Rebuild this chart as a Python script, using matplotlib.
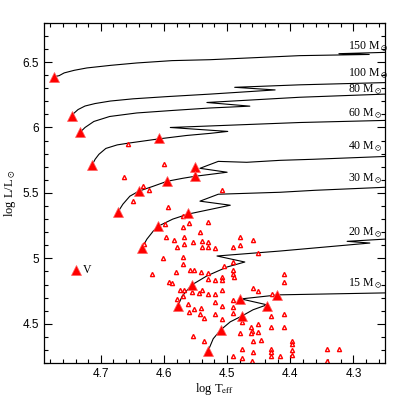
import matplotlib
matplotlib.use("Agg")
import matplotlib.pyplot as plt
from matplotlib.ticker import MultipleLocator

plt.rcParams['font.family'] = 'Liberation Serif'
plt.rcParams['mathtext.fontset'] = 'stix'

# evolutionary tracks (log Teff, log L/Lsun)
t150_logt = [4.773, 4.766, 4.758, 4.742, 4.722, 4.684, 4.643, 4.587, 4.527, 4.385, 4.275, 4.323, 4.250, 4.226]
t150_logl = [6.389, 6.396, 6.417, 6.437, 6.455, 6.475, 6.493, 6.511, 6.518, 6.549, 6.558, 6.564, 6.574, 6.577]

t100_logt = [4.746, 4.743, 4.736, 4.725, 4.709, 4.685, 4.649, 4.595, 4.527, 4.424, 4.488, 4.385, 4.250, 4.226]
t100_logl = [6.084, 6.107, 6.137, 6.164, 6.183, 6.202, 6.219, 6.236, 6.255, 6.287, 6.307, 6.326, 6.343, 6.347]

t80_logt = [4.733, 4.725, 4.711, 4.686, 4.643, 4.587, 4.527, 4.464, 4.532, 4.385, 4.250, 4.226]
t80_logl = [5.962, 6.000, 6.046, 6.084, 6.111, 6.130, 6.149, 6.163, 6.191, 6.231, 6.255, 6.259]

t60_logt = [4.714, 4.709, 4.703, 4.692, 4.674, 4.654, 4.608, 4.564, 4.527, 4.499, 4.590, 4.385, 4.250, 4.226]
t60_logl = [5.711, 5.757, 5.795, 5.840, 5.867, 5.882, 5.913, 5.939, 5.955, 5.970, 6.000, 6.038, 6.054, 6.057]

t40_logt = [4.673, 4.665, 4.654, 4.640, 4.617, 4.595, 4.570, 4.551, 4.500, 4.543, 4.514, 4.469,
            4.416, 4.364, 4.247, 4.226]
t40_logl = [5.353, 5.414, 5.475, 5.513, 5.551, 5.589, 5.612, 5.627, 5.658, 5.688, 5.741, 5.734,
            5.749, 5.757, 5.779, 5.783]

t30_logt = [4.635, 4.627, 4.617, 4.609, 4.586, 4.562, 4.495, 4.543, 4.514, 4.416, 4.361, 4.250, 4.226]
t30_logl = [5.079, 5.147, 5.208, 5.246, 5.300, 5.338, 5.406, 5.437, 5.490, 5.505, 5.520, 5.543, 5.547]

t20_logt = [4.578, 4.571, 4.556, 4.532, 4.500, 4.472, 4.516, 4.416, 4.274, 4.310, 4.250, 4.226]
t20_logl = [4.637, 4.713, 4.797, 4.866, 4.934, 4.972, 5.018, 5.056, 5.117, 5.130, 5.147, 5.151]

t15_logt = [4.530, 4.522, 4.510, 4.495, 4.476, 4.459, 4.437, 4.478, 4.419, 4.250, 4.226]
t15_logl = [4.294, 4.386, 4.454, 4.515, 4.561, 4.607, 4.645, 4.690, 4.721, 4.736, 4.736]

track_masses = ['150', '100', '80', '60', '40', '30', '20', '15']
label_logl = [6.615, 6.412, 6.284, 6.107, 5.850, 5.604, 5.198, 4.805]

# stars with spectroscopic analysis (big filled triangles)
big_logt = [4.774, 4.746, 4.733, 4.714, 4.608, 4.673, 4.640, 4.595, 4.551, 4.551, 4.635,
            4.609, 4.562, 4.578, 4.556, 4.530, 4.510, 4.476, 4.437, 4.480, 4.421]
big_logl = [6.389, 6.084, 5.962, 5.711, 5.917, 5.353, 5.513, 5.589, 5.696, 5.627, 5.079,
            5.246, 5.345, 4.637, 4.797, 4.294, 4.454, 4.561, 4.637, 4.690, 4.721]

# star V
v_logt = [4.739]
v_logl = [4.911]

# comparison sample (small open triangles)
small_logt = [4.657, 4.600, 4.663, 4.633, 4.624, 4.649, 4.594, 4.508, 4.632, 4.598,
              4.570, 4.560, 4.570, 4.530, 4.543, 4.597, 4.584, 4.568, 4.554, 4.540,
              4.530, 4.579, 4.568, 4.540, 4.530, 4.519, 4.491, 4.480, 4.480, 4.459,
              4.451, 4.602, 4.570, 4.570, 4.559, 4.552, 4.541, 4.530, 4.530, 4.581,
              4.619, 4.592, 4.587, 4.519, 4.508, 4.508, 4.505, 4.491, 4.491, 4.491,
              4.489, 4.575, 4.568, 4.570, 4.556, 4.545, 4.540, 4.530, 4.519, 4.508,
              4.459, 4.451, 4.429, 4.410, 4.410, 4.579, 4.562, 4.560, 4.552, 4.543,
              4.541, 4.537, 4.519, 4.508, 4.519, 4.508, 4.491, 4.491, 4.491, 4.476,
              4.451, 4.431, 4.410, 4.462, 4.461, 4.462, 4.480, 4.451, 4.431, 4.410,
              4.554, 4.537, 4.459, 4.446, 4.397, 4.397, 4.476, 4.431, 4.431, 4.431,
              4.459, 4.491, 4.476, 4.461, 4.416, 4.397, 4.397, 4.342, 4.323, 4.342]
small_logl = [5.871, 5.719, 5.620, 5.551, 5.520, 5.437, 5.391, 5.520, 5.109, 5.262,
              5.322, 5.269, 5.239, 5.277, 5.201, 5.163, 5.140, 5.163, 5.124, 5.132,
              5.124, 5.086, 5.109, 5.086, 5.086, 5.079, 5.086, 5.163, 5.102, 5.140,
              5.041, 5.003, 5.010, 4.957, 4.911, 4.911, 4.896, 4.888, 4.843, 4.896,
              4.881, 4.820, 4.812, 4.835, 4.858, 4.835, 4.942, 4.972, 4.911, 4.881,
              4.858, 4.759, 4.759, 4.713, 4.744, 4.736, 4.759, 4.728, 4.728, 4.759,
              4.774, 4.751, 4.728, 4.881, 4.820, 4.690, 4.652, 4.591, 4.614, 4.576,
              4.622, 4.546, 4.668, 4.637, 4.576, 4.538, 4.683, 4.629, 4.584, 4.515,
              4.500, 4.561, 4.576, 4.477, 4.447, 4.431, 4.431, 4.439, 4.477, 4.477,
              4.409, 4.370, 4.370, 4.378, 4.370, 4.348, 4.310, 4.310, 4.287, 4.256,
              4.287, 4.256, 4.241, 4.218, 4.256, 4.302, 4.264, 4.310, 4.310, 4.218]

fig = plt.figure(figsize=(4.07, 4.07), dpi=100)
ax = fig.add_axes([0.108, 0.108, 0.838, 0.836])

tracks = [(t150_logt, t150_logl), (t100_logt, t100_logl), (t80_logt, t80_logl),
          (t60_logt, t60_logl), (t40_logt, t40_logl), (t30_logt, t30_logl),
          (t20_logt, t20_logl), (t15_logt, t15_logl)]
for tt, ll in tracks:
    ax.plot(tt, ll, color='black', lw=0.8)

for mass, yl in zip(track_masses, label_logl):
    ax.text(4.309, yl, mass + r' M$_\odot$', fontsize=8.5, ha='left', va='center')

ax.plot(small_logt, small_logl, ls='none', marker='^', ms=3.0, mfc='white',
        mec='red', mew=1.0)
ax.plot(big_logt, big_logl, ls='none', marker='^', ms=7.5, color='red', mec='#ff6060', mew=0.5)
ax.plot(v_logt, v_logl, ls='none', marker='^', ms=7.5, color='red', mec='#ff6060', mew=0.5)
ax.text(4.728, 4.911, 'V', fontsize=8.5, ha='left', va='center')

ax.set_xlim(4.79, 4.25)
ax.set_ylim(4.2, 6.8)
ax.xaxis.set_minor_locator(MultipleLocator(0.02))
ax.yaxis.set_minor_locator(MultipleLocator(0.1))
ax.tick_params(which='both', direction='in', top=True, right=True, labelsize=8.5)
ax.tick_params(which='major', length=5.5, width=0.8)
ax.tick_params(which='minor', length=2.8, width=0.8)
ax.set_xticks([4.7, 4.6, 4.5, 4.4, 4.3])
ax.set_xticklabels(['4.7', '4.6', '4.5', '4.4', '4.3'], family='Liberation Sans')
ax.set_yticks([4.5, 5.0, 5.5, 6.0, 6.5])
ax.set_yticklabels(['4.5', '5', '5.5', '6', '6.5'], family='Liberation Sans')
for s in ax.spines.values():
    s.set_linewidth(0.9)

ax.set_xlabel(r'log T$_{\rm eff}$', fontsize=9, labelpad=1)
ax.set_ylabel(r'log L/L$_\odot$', fontsize=9, labelpad=3)

fig.savefig('out.png', dpi=100)
